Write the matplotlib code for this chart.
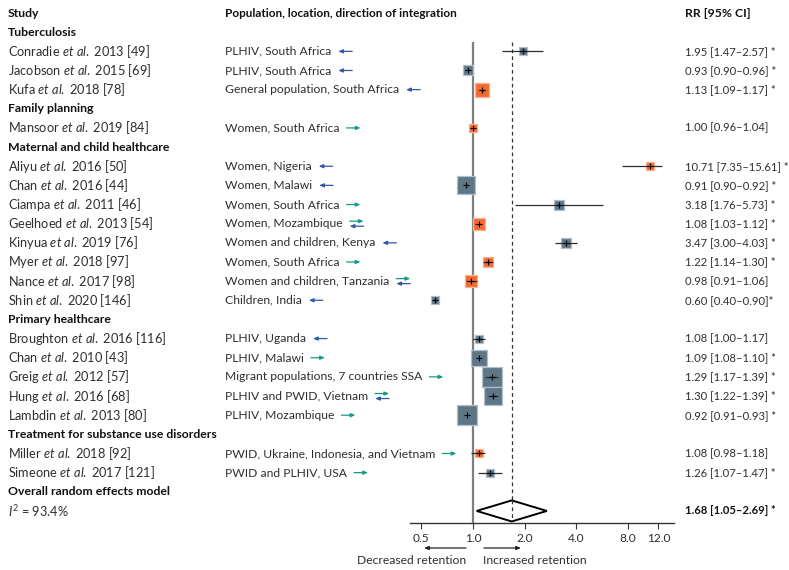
import matplotlib
matplotlib.use("Agg")
import matplotlib.pyplot as plt
from matplotlib.transforms import blended_transform_factory
from matplotlib.patches import FancyArrowPatch, Polygon

plt.rcParams['font.family'] = ['Lato', 'DejaVu Sans']
plt.rcParams['mathtext.fontset'] = 'custom'
plt.rcParams['mathtext.rm'] = 'Lato'
plt.rcParams['mathtext.it'] = 'Lato:italic'
plt.rcParams['mathtext.bf'] = 'Lato:bold'

# ---- data -------------------------------------------------------------
sections = ["Tuberculosis", "Family planning", "Maternal and child healthcare",
            "Primary healthcare", "Treatment for substance use disorders"]
section_sizes = [3, 1, 8, 5, 2]

authors = ["Conradie", "Jacobson", "Kufa", "Mansoor", "Aliyu", "Chan", "Ciampa",
           "Geelhoed", "Kinyua", "Myer", "Nance", "Shin", "Broughton", "Chan",
           "Greig", "Hung", "Lambdin", "Miller", "Simeone"]
years = [2013, 2015, 2018, 2019, 2016, 2016, 2011, 2013, 2019, 2018, 2017, 2020,
         2016, 2010, 2012, 2016, 2013, 2018, 2017]
refs = [49, 69, 78, 84, 50, 44, 46, 54, 76, 97, 98, 146, 116, 43, 57, 68, 80, 92, 121]
populations = ["PLHIV, South Africa", "PLHIV, South Africa",
               "General population, South Africa", "Women, South Africa",
               "Women, Nigeria", "Women, Malawi", "Women, South Africa",
               "Women, Mozambique", "Women and children, Kenya",
               "Women, South Africa", "Women and children, Tanzania",
               "Children, India", "PLHIV, Uganda", "PLHIV, Malawi",
               "Migrant populations, 7 countries SSA", "PLHIV and PWID, Vietnam",
               "PLHIV, Mozambique", "PWID, Ukraine, Indonesia, and Vietnam",
               "PWID and PLHIV, USA"]
# direction of integration: "L" = into HIV services, "R" = out of HIV services, "B" = both
directions = ["L", "L", "L", "R", "L", "L", "R", "B", "L", "R", "B", "L",
              "L", "R", "R", "B", "R", "R", "R"]
rr = [1.95, 0.93, 1.13, 1.00, 10.71, 0.91, 3.18, 1.08, 3.47, 1.22, 0.98, 0.60,
      1.08, 1.09, 1.29, 1.30, 0.92, 1.08, 1.26]
ci_low = [1.47, 0.90, 1.09, 0.96, 7.35, 0.90, 1.76, 1.03, 3.00, 1.14, 0.91, 0.40,
          1.00, 1.08, 1.17, 1.22, 0.91, 0.98, 1.07]
ci_high = [2.57, 0.96, 1.17, 1.04, 15.61, 0.92, 5.73, 1.12, 4.03, 1.30, 1.06, 0.90,
           1.17, 1.10, 1.39, 1.39, 0.93, 1.18, 1.47]
sig_marks = [" *", " *", " *", "", " *", " *", " *", " *", " *", " *", "", "*",
             "", " *", " *", " *", " *", "", " *"]
weights = [2.5, 3.1, 6.1, 2.5, 2.5, 9.0, 3.1, 5.2, 3.7, 3.1, 5.2, 2.5,
           2.5, 7.9, 12.4, 9.0, 12.4, 2.5, 2.0]
study_group = ["A", "A", "B", "B", "B", "A", "A", "B", "A", "B", "B", "A",
               "A", "A", "A", "A", "A", "B", "A"]

overall_rr, overall_low, overall_high = 1.68, 1.05, 2.69
i_squared = 93.4
x_ticks = [0.5, 1.0, 2.0, 4.0, 8.0, 12.0]
x_limits = (0.430, 14.77)
ci_display_range = (0.430, 12.5)

# ---- styling ------------------------------------------------------------
W, H = 789, 570
face = {"A": "#5e7686", "B": "#f26a30"}
edge = {"A": "#b3c0c9", "B": "#f9b295"}
arrow_col = {"L": "#3656a6", "R": "#16998a"}
txt = "#2e2e2e"
head = "#111111"
fs_name = 9.2
fs_pop = 8.7
fs_rr = 8.1
fs_bold = 8.8

fig = plt.figure(figsize=(W / 100, H / 100), dpi=100)
ax = fig.add_axes([410 / W, (H - 523) / H, (674 - 410) / W, 523 / H])
ax.set_xscale("log", base=2)
ax.set_xlim(*x_limits)
ax.set_ylim(26.63, -0.68)
ax.patch.set_alpha(0)
for s in ("top", "left", "right"):
    ax.spines[s].set_visible(False)
ax.spines["bottom"].set_color("#333333")
ax.spines["bottom"].set_linewidth(1.0)
ax.set_yticks([])
ax.set_xticks(x_ticks)
ax.set_xticklabels([f"{t:.1f}" for t in x_ticks])
ax.xaxis.set_minor_locator(matplotlib.ticker.NullLocator())
ax.tick_params(axis="x", length=4, width=0.8, color="#333333", labelsize=8.6,
               labelcolor=txt, pad=3)

tr = blended_transform_factory(fig.transFigure, ax.transData)

# build row layout
rows_section = []
rows_study = []
r = 1
for name, n in zip(sections, section_sizes):
    rows_section.append(r)
    r += 1
    for _ in range(n):
        rows_study.append(r)
        r += 1
row_overall = r
row_isq = r + 1

# header
fig.text(8 / W, 0, "Study", transform=tr, fontsize=fs_bold, fontweight="bold",
         color=head, va="center")
fig.text(225 / W, 0, "Population, location, direction of integration", transform=tr,
         fontsize=fs_bold - 0.3, fontweight="bold", color=head, va="center")
fig.text(685 / W, 0, "RR [95% CI]", transform=tr, fontsize=fs_bold, fontweight="bold",
         color=head, va="center")

for name, row in zip(sections, rows_section):
    fig.text(8 / W, row, name, transform=tr, fontsize=fs_bold, fontweight="bold",
             color=head, va="center")

# reference lines
ax.plot([1, 1], [1.5, 26.63], color="#7f7f7f", lw=1.6, zorder=1, solid_capstyle="butt")
ax.plot([overall_rr, overall_rr], [1.5, 26.63], color="#333333", lw=0.9,
        dashes=(3, 2.5), zorder=1)

renderer = fig.canvas.get_renderer()


def draw_arrow(x0, x1, y, color):
    a = FancyArrowPatch((x0 / W, y / H), (x1 / W, y / H), transform=fig.transFigure,
                        arrowstyle="-|>,head_length=2.6,head_width=1.1",
                        mutation_scale=1, lw=0.9, color=color, shrinkA=0, shrinkB=0)
    fig.add_artist(a)


for i, row in enumerate(rows_study):
    label = rf"{authors[i]} $\mathit{{et\ al.}}$ {years[i]} [{refs[i]}]"
    fig.text(8 / W, row, label, transform=tr, fontsize=fs_name, color=txt, va="center")
    t = fig.text(225 / W, row, populations[i], transform=tr, fontsize=fs_pop,
                 color=txt, va="center")
    bb = t.get_window_extent(renderer)
    ypix = ax.transData.transform((1, row))[1]
    xa = bb.x1 + 7
    d = directions[i]
    if d == "L":
        draw_arrow(xa + 14, xa, ypix, arrow_col["L"])
    elif d == "R":
        draw_arrow(xa, xa + 14, ypix, arrow_col["R"])
    else:
        draw_arrow(xa, xa + 14, ypix + 2.5, arrow_col["R"])
        draw_arrow(xa + 14, xa, ypix - 2.5, arrow_col["L"])

    fig.text(685 / W, row,
             f"{rr[i]:.2f} [{ci_low[i]:.2f}\u2013{ci_high[i]:.2f}]{sig_marks[i]}",
             transform=tr, fontsize=fs_rr, color=txt, va="center")

    side = 5.68 * weights[i] ** 0.5
    ax.scatter([rr[i]], [row], marker="s", s=(side * 0.72) ** 2,
               facecolor=face[study_group[i]], edgecolor=edge[study_group[i]],
               linewidths=0.9, zorder=2)
    # intervals whose lower bound falls outside the display range are omitted;
    # upper bounds beyond the range are truncated at its edge
    if ci_low[i] >= ci_display_range[0]:
        ax.plot([ci_low[i], min(ci_high[i], ci_display_range[1])], [row, row],
                color="#2e2e2e", lw=0.9, zorder=3, solid_capstyle="butt")
    ax.plot([rr[i]], [row], marker="+", color="black", ms=4.5, mew=0.8, zorder=4)

# overall estimate
fig.text(8 / W, row_overall, "Overall random effects model", transform=tr,
         fontsize=fs_bold, fontweight="bold", color=head, va="center")
fig.text(8 / W, row_isq, rf"$\mathit{{I}}^2$ = {i_squared:.1f}%", transform=tr,
         fontsize=fs_name, color=txt, va="center")
diamond = Polygon([(overall_low, row_isq), (overall_rr, row_isq - 0.55),
                   (overall_high, row_isq), (overall_rr, row_isq + 0.55)],
                  closed=True, facecolor="white", edgecolor="black", lw=1.4, zorder=3)
ax.add_patch(diamond)
ax.plot([overall_rr, overall_rr], [row_isq - 0.55, row_isq + 0.55], color="#333333",
        lw=0.9, dashes=(3, 2.5), zorder=4)
fig.text(685 / W, row_isq,
         f"{overall_rr:.2f} [{overall_low:.2f}\u2013{overall_high:.2f}] *",
         transform=tr, fontsize=fs_rr, fontweight="bold", color=head, va="center")

# direction of effect below the axis
draw_arrow(466, 424, H - 548, "#222222")
draw_arrow(484, 521, H - 548, "#222222")
fig.text(466 / W, (H - 561) / H, "Decreased retention", fontsize=fs_pop, color=txt,
         ha="right", va="center")
fig.text(483 / W, (H - 561) / H, "Increased retention", fontsize=fs_pop, color=txt,
         ha="left", va="center")

fig.savefig("out.png", dpi=100)
